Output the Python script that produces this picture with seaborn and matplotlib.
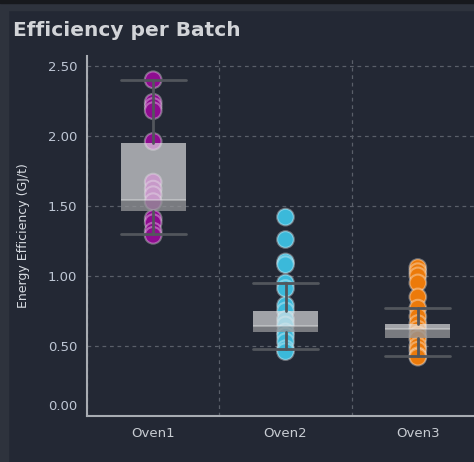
import numpy as np
import pandas as pd
import seaborn as sns
import matplotlib.pyplot as plt
import matplotlib.transforms as mtransforms
from matplotlib.patches import Rectangle

# --- data ---
ovens = ["Oven1", "Oven2", "Oven3"]
oven1_vals = [2.40, 2.24, 2.21, 2.18, 1.96, 1.67, 1.62, 1.58, 1.53, 1.41, 1.38, 1.32, 1.29]
oven2_vals = [1.42, 1.26, 1.10, 1.08, 0.95, 0.91, 0.79, 0.75, 0.69, 0.65, 0.60, 0.57, 0.53, 0.48, 0.46]
oven3_vals = [1.06, 1.03, 1.00, 0.95, 0.85, 0.77, 0.71, 0.66, 0.62, 0.58, 0.55, 0.50, 0.47, 0.43, 0.42]

# box summary per oven (as drawn in the chart)
whis_lo = [1.30, 0.476, 0.43]
q1 = [1.46, 0.60, 0.555]
med = [1.54, 0.64, 0.62]
q3 = [1.95, 0.752, 0.657]
whis_hi = [2.40, 0.952, 0.771]

colors = ["#8e0c90", "#3bb9da", "#ec7a0a"]
ytick_vals = [0.0, 0.5, 1.0, 1.5, 2.0, 2.5]

df = pd.DataFrame({
    "oven": ["Oven1"] * len(oven1_vals) + ["Oven2"] * len(oven2_vals) + ["Oven3"] * len(oven3_vals),
    "value": oven1_vals + oven2_vals + oven3_vals,
})

panel = "#232834"
sns.set_style("dark")

fig = plt.figure(figsize=(4.74, 4.62), dpi=100, facecolor=panel)
# outer frame strips
fig.patches.append(Rectangle((0, 0), 8 / 474, 1, transform=fig.transFigure, color="#2e333d", zorder=0))
fig.patches.append(Rectangle((0, 1 - 10 / 462), 1, 10 / 462, transform=fig.transFigure, color="#2e333d", zorder=0))
fig.patches.append(Rectangle((0, 1 - 3 / 462), 1, 3 / 462, transform=fig.transFigure, color="#17191d", zorder=0))

ax = fig.add_axes([87 / 474, 46 / 462, 397 / 474, 360 / 462])
ax.set_facecolor(panel)

# points first, box goes on top of them
sns.stripplot(data=df, x="oven", y="value", hue="oven", palette=colors, order=ovens,
              jitter=False, size=12, linewidth=1.5, edgecolor=(1, 1, 1, 0.35),
              legend=False, zorder=2, ax=ax)

pos = np.arange(len(ovens))
stats = [dict(whislo=whis_lo[i], q1=q1[i], med=med[i], q3=q3[i], whishi=whis_hi[i], fliers=[])
         for i in range(len(ovens))]
ax.bxp(stats, positions=pos, widths=0.49, capwidths=0.49, showfliers=False, patch_artist=True,
       manage_ticks=False,
       boxprops=dict(facecolor=(0.9, 0.9, 0.91, 0.65), edgecolor="none", linewidth=0, zorder=3),
       whiskerprops=dict(color="#52565c", lw=2, zorder=4),
       capprops=dict(color="#52565c", lw=2, zorder=4),
       medianprops=dict(color=(0.92, 0.92, 0.93, 0.45), lw=1.2, zorder=4))
# darker lower part of each box (q1 -> median)
ax.bar(pos, np.array(med) - np.array(q1), bottom=q1, width=0.49,
       color=(0.16, 0.17, 0.19, 0.33), edgecolor="none", linewidth=0, zorder=3.5)

ax.set_xlim(-0.5, 2.5)
ax.set_ylim(0, 2.57)
ax.set_yticks(ytick_vals)
ax.set_yticklabels([f"{v:.2f}" for v in ytick_vals])
ax.set_xticks(pos)
ax.set_xticklabels(ovens)
ax.set_xticks([-0.5, 0.5, 1.5, 2.5], minor=True)
ax.tick_params(axis="x", which="major", length=0, pad=8, colors="#c8ccd2", labelsize=9.5)
ax.tick_params(axis="x", which="minor", length=4, width=1.2, color="#a8acb2")
ax.tick_params(axis="y", length=4, width=1, color="#8a8f98", labelcolor="#bfc7d5", labelsize=9.5, pad=3)

ax.grid(False)
ax.grid(True, which="major", axis="y", ls=(0, (3, 3)), color="#5a5f69", lw=0.9, zorder=0)
ax.grid(True, which="minor", axis="x", ls=(0, (3, 3)), color="#5a5f69", lw=0.9, zorder=0)
ax.set_axisbelow(True)

for side in ["top", "right"]:
    ax.spines[side].set_visible(False)
for side in ["left", "bottom"]:
    ax.spines[side].set_color("#a8acb2")
    ax.spines[side].set_linewidth(1.5)

ax.set_xlabel("")
ax.set_ylabel("Energy Efficiency (GJ/t)", fontsize=9, color="#d8dce2")
ax.yaxis.set_label_coords(-0.1436, 0.5)

# the 0.00 label sits a bit above the axis line
lab0 = ax.get_yticklabels()[0]
lab0.set_transform(lab0.get_transform() + mtransforms.ScaledTranslation(0, 11 / 100, fig.dpi_scale_trans))
ax.yaxis.get_major_ticks()[0].tick1line.set_visible(False)

fig.text(13 / 474, 1 - 31 / 462, "Efficiency per Batch", fontsize=14.5, weight="bold",
         color="#d2d4d8", va="center", ha="left")

fig.savefig("out.png", dpi=100, facecolor=fig.get_facecolor())
